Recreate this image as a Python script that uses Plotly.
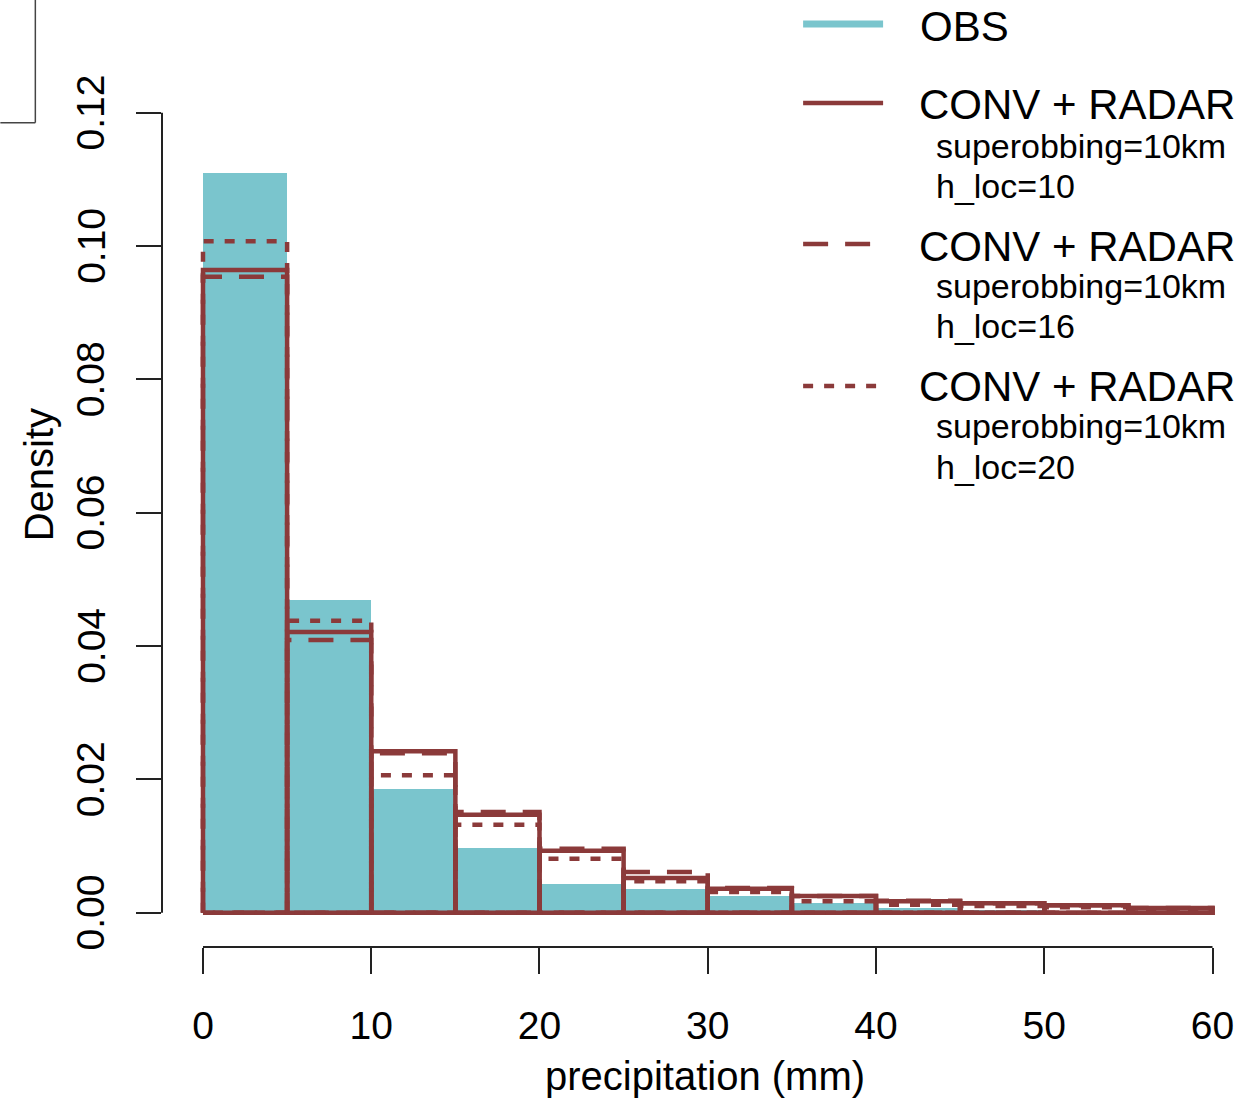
import plotly.graph_objects as go

# ---------------- data ----------------
bin_edges = [0, 5, 10, 15, 20, 25, 30, 35, 40, 45, 50, 55, 60]
obs = [0.1110, 0.0469, 0.0185, 0.0097, 0.0043, 0.0035, 0.0025, 0.0014, 0.0007, 0.0004, 0.0002, 0.0001]
hloc10 = [0.0964, 0.0421, 0.0242, 0.0147, 0.0093, 0.0052, 0.0036, 0.0025, 0.0017, 0.0014, 0.0011, 0.0007]
hloc16 = [0.0954, 0.0409, 0.0239, 0.0151, 0.0096, 0.0061, 0.0037, 0.0025, 0.0018, 0.0014, 0.0011, 0.0007]
hloc20 = [0.1007, 0.0438, 0.0206, 0.0132, 0.0081, 0.0047, 0.0031, 0.0017, 0.0012, 0.0010, 0.0008, 0.0005]
x_ticks = [0, 10, 20, 30, 40, 50, 60]
y_ticks = [0.00, 0.02, 0.04, 0.06, 0.08, 0.10, 0.12]
legend_main = ["OBS", "CONV + RADAR", "CONV + RADAR", "CONV + RADAR"]
legend_sub = ["superobbing=10km", "h_loc=10", "superobbing=10km", "h_loc=16", "superobbing=10km", "h_loc=20"]

TEAL = "#7AC5CD"
RED = "#8B3A3A"
FONT = "Liberation Sans, Arial, Helvetica, sans-serif"

# ---------------- layout geometry (pixels) ----------------
W, H = 1250, 1100
L, R, T, B = 161.7, 1225.0, 81.0, 947.0
px_per_x = 16.83
px_per_y = 800 / 0.12
x0_px, y0_px = 202.7, 912.7
xr = [-(x0_px - L) / px_per_x, (R - x0_px) / px_per_x]
yr = [-(B - y0_px) / px_per_y, (y0_px - T) / px_per_y]


def pxx(p):
    return (p - L) / (R - L)


def pxy(p):
    return (B - p) / (B - T)


def outline(edges, heights):
    xs, ys = [], []
    for i, h in enumerate(heights):
        a, b = edges[i], edges[i + 1]
        xs += [a, a, b, b, a, None]
        ys += [0, h, h, 0, 0, None]
    return xs, ys


fig = go.Figure()

centers = [(bin_edges[i] + bin_edges[i + 1]) / 2 for i in range(len(obs))]
widths = [bin_edges[i + 1] - bin_edges[i] for i in range(len(obs))]
fig.add_trace(go.Bar(x=centers, y=obs, width=widths, marker=dict(color=TEAL, line=dict(width=0)),
                     showlegend=False, hoverinfo="skip"))

for vals, dash in [(hloc10, "solid"), (hloc16, "25px,17px"), (hloc20, "10px,11px")]:
    xs, ys = outline(bin_edges, vals)
    fig.add_trace(go.Scatter(x=xs, y=ys, mode="lines", line=dict(color=RED, width=4.5, dash=dash),
                             showlegend=False, hoverinfo="skip", cliponaxis=False))

shapes = []
# axis lines (R style, only over the tick span)
shapes.append(dict(type="line", xref="x", yref="paper", x0=x_ticks[0], x1=x_ticks[-1], y0=0, y1=0,
                   line=dict(color="#222", width=2)))
shapes.append(dict(type="line", xref="paper", yref="y", x0=0, x1=0, y0=y_ticks[0], y1=y_ticks[-1],
                   line=dict(color="#222", width=2)))
# top-left frame fragment
shapes.append(dict(type="line", xref="paper", yref="paper", x0=pxx(35), x1=pxx(35), y0=pxy(0), y1=pxy(122.7),
                   line=dict(color="#444", width=1.5)))
shapes.append(dict(type="line", xref="paper", yref="paper", x0=pxx(0), x1=pxx(35), y0=pxy(122.7), y1=pxy(122.7),
                   line=dict(color="#444", width=1.5)))
# legend keys
shapes.append(dict(type="line", xref="paper", yref="paper", x0=pxx(803), x1=pxx(883), y0=pxy(24), y1=pxy(24),
                   line=dict(color=TEAL, width=7)))
shapes.append(dict(type="line", xref="paper", yref="paper", x0=pxx(803), x1=pxx(883), y0=pxy(103), y1=pxy(103),
                   line=dict(color=RED, width=4.5)))
shapes.append(dict(type="line", xref="paper", yref="paper", x0=pxx(803), x1=pxx(871), y0=pxy(244), y1=pxy(244),
                   line=dict(color=RED, width=4.5, dash="25px,17px")))
shapes.append(dict(type="line", xref="paper", yref="paper", x0=pxx(803), x1=pxx(876), y0=pxy(386), y1=pxy(386),
                   line=dict(color=RED, width=4.5, dash="10px,11px")))

ann = []
main_y = [26.5, 104.5, 246.5, 386.5]
main_x = [918, 917, 917, 917]
for t, xx, yy in zip(legend_main, main_x, main_y):
    ann.append(dict(text=t, x=pxx(xx), y=pxy(yy), xref="paper", yref="paper", xanchor="left", yanchor="middle",
                    showarrow=False, font=dict(size=42, color="black", family=FONT)))
sub_y = [145.8, 185.8, 285.8, 325.8, 425.8, 466.8]
for t, yy in zip(legend_sub, sub_y):
    ann.append(dict(text=t, x=pxx(934), y=pxy(yy), xref="paper", yref="paper", xanchor="left", yanchor="middle",
                    showarrow=False, font=dict(size=34, color="black", family=FONT)))
ann.append(dict(text="precipitation (mm)", x=pxx(705), y=pxy(1076), xref="paper", yref="paper",
                xanchor="center", yanchor="middle", showarrow=False, font=dict(size=40, color="black", family=FONT)))
ann.append(dict(text="Density", x=pxx(39), y=pxy(475), xref="paper", yref="paper", textangle=-90,
                xanchor="center", yanchor="middle", showarrow=False, font=dict(size=40, color="black", family=FONT)))
# rotated y tick labels placed exactly at their tick values
for v in y_ticks:
    ann.append(dict(text="%.2f" % v, x=pxx(90.5), y=v, xref="paper", yref="y", textangle=-90,
                    xanchor="center", yanchor="middle", showarrow=False,
                    font=dict(size=39, color="black", family=FONT)))

fig.update_layout(
    width=W, height=H,
    margin=dict(l=L, r=W - R, t=T, b=H - B, pad=0),
    paper_bgcolor="white", plot_bgcolor="white",
    showlegend=False, bargap=0,
    shapes=shapes, annotations=ann,
    font=dict(family=FONT, color="black"),
)
fig.update_xaxes(range=xr, tickvals=x_ticks, ticktext=[str(v) for v in x_ticks], ticks="outside", ticklen=26,
                 tickwidth=2, tickcolor="#222", showgrid=False, zeroline=False, showline=False,
                 tickfont=dict(size=39, family=FONT, color="black"), ticklabelstandoff=18)
fig.update_yaxes(range=yr, tickvals=y_ticks, showticklabels=False, ticks="outside", ticklen=25,
                 tickwidth=2, tickcolor="#222", showgrid=False, zeroline=False, showline=False)

fig.write_html("out.html")
